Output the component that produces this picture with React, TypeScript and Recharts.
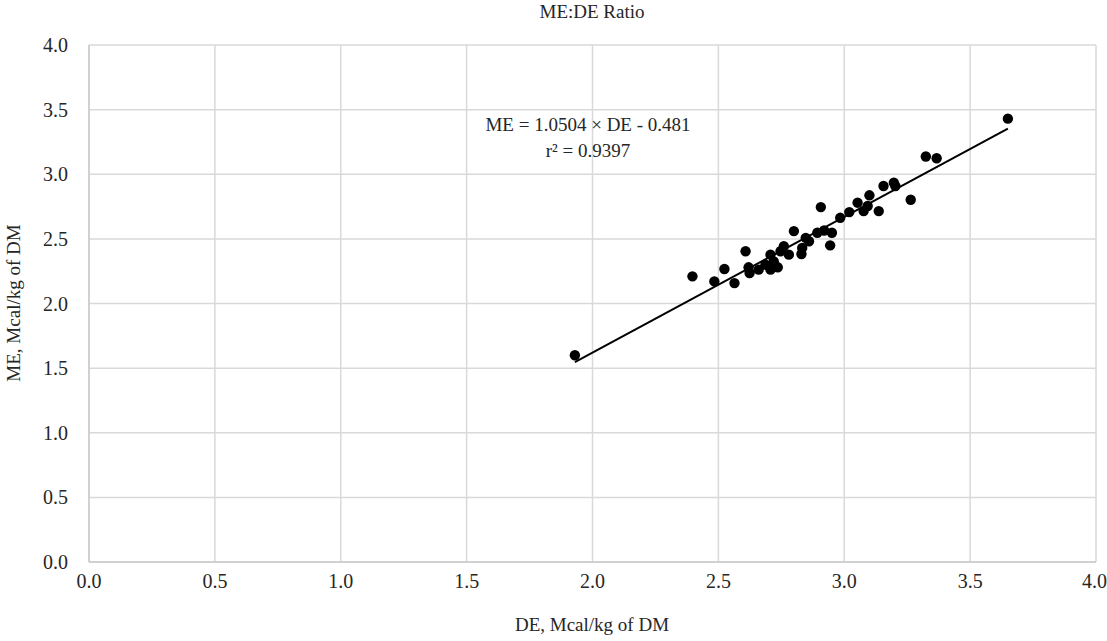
import { CartesianGrid, ComposedChart, Line, Scatter, XAxis, YAxis } from 'recharts'

const deValues = [
  1.93, 2.397, 2.484, 2.524, 2.564, 2.608, 2.62, 2.624, 2.66, 2.687, 2.707, 2.707, 2.72, 2.736,
  2.747, 2.76, 2.78, 2.8, 2.83, 2.833, 2.847, 2.86, 2.893, 2.907, 2.92, 2.944, 2.951, 2.984,
  3.02, 3.053, 3.077, 3.093, 3.1, 3.137, 3.156, 3.197, 3.203, 3.264, 3.324, 3.367, 3.65,
]
const meValues = [
  1.6, 2.21, 2.171, 2.267, 2.158, 2.404, 2.28, 2.236, 2.262, 2.3, 2.378, 2.262, 2.326, 2.28,
  2.404, 2.443, 2.378, 2.56, 2.383, 2.43, 2.508, 2.482, 2.547, 2.746, 2.565, 2.45, 2.547, 2.663,
  2.707, 2.78, 2.715, 2.754, 2.837, 2.715, 2.909, 2.935, 2.909, 2.803, 3.137, 3.124, 3.43,
]
const xTicks = [0, 0.5, 1, 1.5, 2, 2.5, 3, 3.5, 4]
const yTicks = [0, 0.5, 1, 1.5, 2, 2.5, 3, 3.5, 4]

// linear fit shown on the chart
const slope = 1.0504
const intercept = -0.481
const fitRange = [1.93, 3.65]

const points = deValues.map((de, i) => ({ de, me: meValues[i] }))
const trend = fitRange.map((de) => ({ de, fit: slope * de + intercept }))

const font = 'Liberation Serif, DejaVu Serif, serif'
const tickStyle = { fill: '#262626', fontSize: 20, fontFamily: font }

function App() {
  return (
    <div style={{ position: 'absolute', left: 0, top: 0, width: 1107, height: 641, background: '#fff', fontFamily: font, color: '#262626' }}>
      <ComposedChart width={1107} height={641} margin={{ top: 45, right: 11, bottom: 49, left: 29 }} style={{ fontFamily: font }}>
        <CartesianGrid stroke="#d9d9d9" strokeWidth={1.5} horizontalValues={yTicks} verticalValues={xTicks} />
        <XAxis type="number" dataKey="de" domain={[0, 4]} ticks={xTicks} tickFormatter={(v) => Number(v).toFixed(1)}
          stroke="#bfbfbf" tickLine={false} tick={tickStyle} tickMargin={6} height={30} />
        <YAxis type="number" domain={[0, 4]} ticks={yTicks} tickFormatter={(v) => Number(v).toFixed(1)}
          stroke="#bfbfbf" tickLine={false} tick={tickStyle} tickMargin={15} width={60} />
        <Scatter data={points} dataKey="me" fill="#000" isAnimationActive={false}
          shape={(p: any) => <circle cx={p.cx} cy={p.cy} r={5.2} fill="#000" />} />
        <Line data={trend} dataKey="fit" stroke="#000" strokeWidth={2} dot={false} isAnimationActive={false} type="linear" />
      </ComposedChart>
      <div style={{ position: 'absolute', left: 0, width: 1184, top: 1, textAlign: 'center', fontSize: 19 }}>ME:DE Ratio</div>
      <div style={{ position: 'absolute', left: 0, width: 1184, top: 614, textAlign: 'center', fontSize: 19 }}>DE, Mcal/kg of DM</div>
      <div style={{ position: 'absolute', left: 14, top: 303, transform: 'translate(-50%, -50%) rotate(-90deg)', whiteSpace: 'nowrap', fontSize: 19 }}>
        ME, Mcal/kg of DM
      </div>
      <div style={{ position: 'absolute', left: 388, width: 400, top: 112, textAlign: 'center', fontSize: 19, lineHeight: '26px' }}>
        ME = 1.0504 × DE - 0.481<br />r² = 0.9397
      </div>
    </div>
  )
}

export default App
